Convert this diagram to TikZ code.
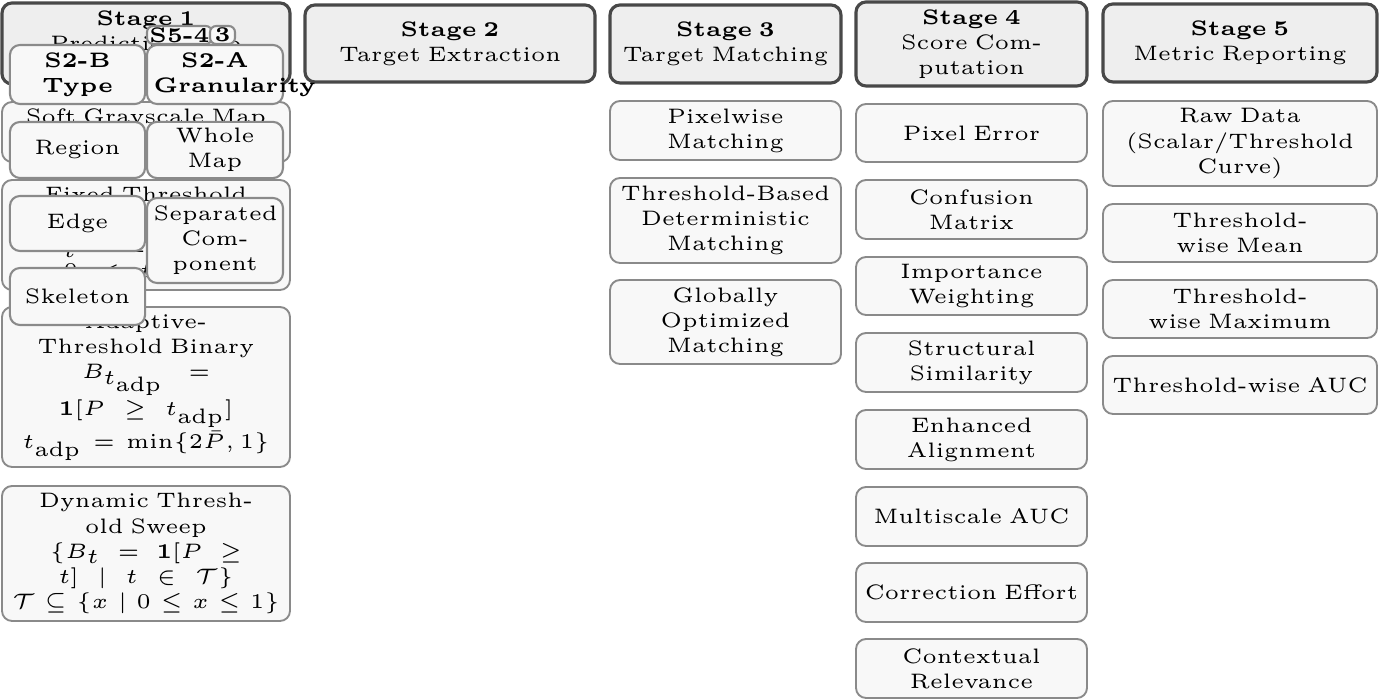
\documentclass[tikz,border=0pt]{standalone}
\usepackage{amsmath,amssymb}
\definecolor{hdrfill}{HTML}{EEEEEE}
\definecolor{hdrdraw}{HTML}{484848}
\definecolor{itemfill}{HTML}{F8F8F8}
\definecolor{itemdraw}{HTML}{8A8A8A}
\tikzset{
  bb/.style n args={4}{at={({(#1+#3)/2},{(#2+#4)/2})}, minimum width={(#3-#1)*0.239pt}, minimum height={(#4-#2)*0.239pt}},
  basebox/.style={rounded corners=2.4pt, align=center, font=\tiny, inner sep=1.5pt, text=black},
  hdr/.style={basebox, draw=hdrdraw, fill=hdrfill, line width=0.75pt},
  item/.style={basebox, draw=itemdraw, fill=itemfill, line width=0.45pt},
  ovl/.style={basebox, draw=itemdraw, fill=itemfill, line width=0.5pt, text width=29.3pt},
  tag/.style={basebox, draw=itemdraw, fill=itemfill, line width=0.5pt, font=\tiny\bfseries, inner sep=0.3pt, rounded corners=1.5pt},
  cA/.style={text width=65.8pt},
  cB/.style={text width=66.3pt},
  cC/.style={text width=52.2pt},
  cE/.style={text width=62.5pt},
}
\begin{document}
\begin{tikzpicture}[x=0.239pt,y=-0.239pt]
\useasboundingbox (0,0) rectangle (1379,700);
% stage headers
\node[hdr,cA,bb={2}{3}{290}{84}] (h1) {\textbf{Stage 1}\\Prediction Map\\Binarization};
\node[hdr,cB,bb={305}{5}{595}{82}] (h2) {\textbf{Stage 2}\\Target Extraction};
\node[hdr,cC,bb={610}{5}{841}{83}] (h3) {\textbf{Stage 3}\\Target Matching};
\node[hdr,cC,bb={856}{2}{1087}{86}] (h4) {\textbf{Stage 4}\\Score Com-\\putation};
\node[hdr,cE,bb={1103}{4}{1377}{82}] (h5) {\textbf{Stage 5}\\Metric Reporting};
% stage 1 items
\node[item,cA,bb={2}{102}{290}{162}] (p1) {Soft Grayscale Map\\\strut};
\node[item,cA,bb={2}{180}{290}{290}] (p2) {Fixed Threshold\\Binary\\$B_t = \mathbf{1}[P \ge t]$\\$0 < t < 1\vphantom{(}$};
\node[item,cA,bb={2}{307}{290}{467}] (p3) {Adaptive-\\Threshold Binary\\$B_{t_{\mathrm{adp}}} =$\\$\mathbf{1}[P \ge t_{\mathrm{adp}}]$\\$t_{\mathrm{adp}} = \min\{2\bar{P}, 1\}$};
\node[item,cA,bb={2}{486}{290}{621}] (p4) {Dynamic Thresh-\\old Sweep\\$\{B_t = \mathbf{1}[P \ge$\\$t] \mid t \in \mathcal{T}\}$\\$\mathcal{T} \subseteq \{x \mid 0 \le x \le 1\}$};
% stage 3 items
\node[item,cC,bb={610}{101}{841}{160}] (m1) {Pixelwise\\Matching};
\node[item,cC,bb={610}{178}{841}{263}] (m2) {Threshold-Based\\Deterministic\\Matching};
\node[item,cC,bb={610}{280}{841}{364}] (m3) {Globally\\Optimized\\Matching};
% stage 4 items
\node[item,cC,bb={856}{104}{1087}{162}] (s1) {Pixel Error};
\node[item,cC,bb={856}{180}{1087}{239}] (s2) {Confusion\\Matrix};
\node[item,cC,bb={856}{257}{1087}{315}] (s3) {Importance\\Weighting};
\node[item,cC,bb={856}{333}{1087}{392}] (s4) {Structural\\Similarity};
\node[item,cC,bb={856}{410}{1087}{469}] (s5) {Enhanced\\Alignment};
\node[item,cC,bb={856}{487}{1087}{546}] (s6) {Multiscale AUC};
\node[item,cC,bb={856}{563}{1087}{622}] (s7) {Correction Effort};
\node[item,cC,bb={856}{639}{1087}{698}] (s8) {Contextual\\Relevance};
% stage 5 items
\node[item,cE,bb={1103}{101}{1377}{186}] (r1) {Raw Data\\(Scalar/Threshold\\Curve)};
\node[item,cE,bb={1103}{204}{1377}{262}] (r2) {Threshold-\\wise Mean};
\node[item,cE,bb={1103}{280}{1377}{338}] (r3) {Threshold-\\wise Maximum};
\node[item,cE,bb={1103}{356}{1377}{414}] (r4) {Threshold-wise AUC};
% overlapping target nodes
\node[ovl,bb={10}{45}{145}{104}] (tb) {\textbf{S2-B}\\\textbf{Type}};
\node[ovl,bb={147}{45}{283}{104}] (ta) {\textbf{S2-A}\\\textbf{Granularity}};
\node[ovl,bb={10}{122}{145}{178}] (o1) {Region};
\node[ovl,bb={147}{122}{283}{178}] (o2) {Whole\\Map};
\node[ovl,bb={10}{196}{145}{251}] (o3) {Edge};
\node[ovl,bb={147}{198}{283}{283}] (o4) {Separated\\Com-\\ponent};
\node[ovl,bb={10}{268}{145}{325}] (o5) {Skeleton};
% tags
\node[tag,bb={147}{26}{212}{44}] (g1) {S5-4};
\node[tag,bb={210}{26}{235}{44}] (g2) {3};
\end{tikzpicture}
\end{document}
